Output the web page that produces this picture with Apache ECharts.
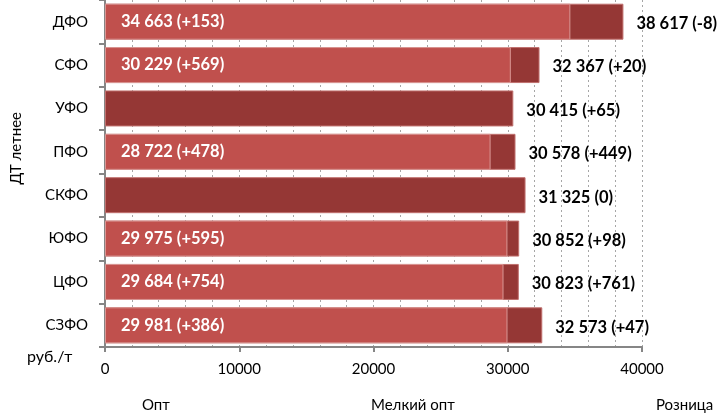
<!DOCTYPE html>
<html>
<head>
<meta charset="utf-8">
<script src="https://cdn.jsdelivr.net/npm/echarts@6/dist/echarts.min.js"></script>
<style>
  html, body { margin: 0; padding: 0; background: #fff; }
  #main { width: 717px; height: 416px; }
</style>
</head>
<body>
<div id="main"></div>
<script>
// regions, top to bottom
var regions = ['ДФО', 'СФО', 'УФО', 'ПФО', 'СКФО', 'ЮФО', 'ЦФО', 'СЗФО'];

// wholesale price and its change (null = no data)
var optValues  = [34663, 30229, null, 28722, null, 29975, 29684, 29981];
var optChanges = [153, 569, null, 478, null, 595, 754, 386];

// small wholesale - no values on the picture
var smallOptValues = [null, null, null, null, null, null, null, null];

// retail price and its change
var retailValues  = [38617, 32367, 30415, 30578, 31325, 30852, 30823, 32573];
var retailChanges = [-8, 20, 65, 449, 0, 98, 761, 47];

var xTicks = [0, 10000, 20000, 30000, 40000];

var FONT = 'Lato, "Liberation Sans", sans-serif';

function fmt(v) {
    return String(v).replace(/\B(?=(\d{3})+(?!\d))/g, ' ');
}
function fmtChange(c) {
    return c > 0 ? '+' + c : String(c);
}

var myChart = echarts.init(document.getElementById('main'));

var legendText = { fontFamily: FONT, fontSize: 15, color: '#000' };

var option = {
    animation: false,
    grid: { left: 105, right: 75, top: 0, bottom: 69 },
    legend: [
        { left: 136, top: 398, padding: 0, itemWidth: 0, itemHeight: 0, data: ['Опт'], textStyle: legendText },
        { left: 366, top: 398, padding: 0, itemWidth: 0, itemHeight: 0, data: ['Мелкий опт'], textStyle: legendText },
        { left: 650, top: 398, padding: 0, itemWidth: 0, itemHeight: 0, data: ['Розница'], textStyle: legendText }
    ],
    graphic: [
        { type: 'text', left: 9, top: 112, rotation: Math.PI / 2,
          style: { text: 'ДТ летнее', font: '15px ' + FONT, fill: '#000' } },
        { type: 'text', left: 27, top: 349,
          style: { text: 'руб./т', font: '16px ' + FONT, fill: '#000' } }
    ],
    xAxis: {
        type: 'value',
        min: xTicks[0],
        max: xTicks[xTicks.length - 1],
        interval: 10000,
        axisLine: { show: true, lineStyle: { color: '#868686', width: 2 } },
        axisTick: { show: true, length: 5, lineStyle: { color: '#868686', width: 2 } },
        axisLabel: { fontFamily: FONT, fontSize: 15, color: '#000', margin: 15,
                     formatter: function (v) { return String(v); } },
        splitLine: { show: true, lineStyle: { color: '#a6a6a6', type: [2, 3] } },
        minorTick: { show: false, splitNumber: 5 },
        minorSplitLine: { show: true, lineStyle: { color: '#a6a6a6', type: [2, 3] } }
    },
    yAxis: {
        type: 'category',
        data: regions,
        inverse: true,
        axisLine: { show: true, lineStyle: { color: '#868686', width: 2 } },
        axisTick: { show: true, length: 6, lineStyle: { color: '#868686', width: 2 } },
        axisLabel: { fontFamily: FONT, fontSize: 15, color: '#000', margin: 17 }
    },
    series: [
        {
            name: 'Опт',
            type: 'bar',
            z: 4,
            barWidth: 36,
            barGap: '-100%',
            data: optValues,
            itemStyle: { color: '#C0504D', borderColor: '#d99694', borderWidth: 1 },
            label: {
                show: true,
                position: 'insideLeft',
                distance: 16,
                fontFamily: FONT,
                fontSize: 16.5,
                fontWeight: 'bold',
                color: '#fff',
                formatter: function (p) {
                    return fmt(p.value) + ' (' + fmtChange(optChanges[p.dataIndex]) + ')';
                }
            }
        },
        {
            name: 'Мелкий опт',
            type: 'bar',
            z: 3,
            barWidth: 36,
            barGap: '-100%',
            data: smallOptValues,
            itemStyle: { color: '#4F81BD' }
        },
        {
            name: 'Розница',
            type: 'bar',
            z: 2,
            barWidth: 36,
            barGap: '-100%',
            data: retailValues,
            itemStyle: { color: '#953735', borderColor: '#c0706e', borderWidth: 1 },
            label: {
                show: true,
                position: 'right',
                distance: 13,
                offset: [0, 2],
                fontFamily: FONT,
                fontSize: 16.5,
                fontWeight: 'bold',
                color: '#000',
                formatter: function (p) {
                    return fmt(p.value) + ' (' + fmtChange(retailChanges[p.dataIndex]) + ')';
                }
            }
        }
    ]
};

myChart.setOption(option);
</script>
</body>
</html>
